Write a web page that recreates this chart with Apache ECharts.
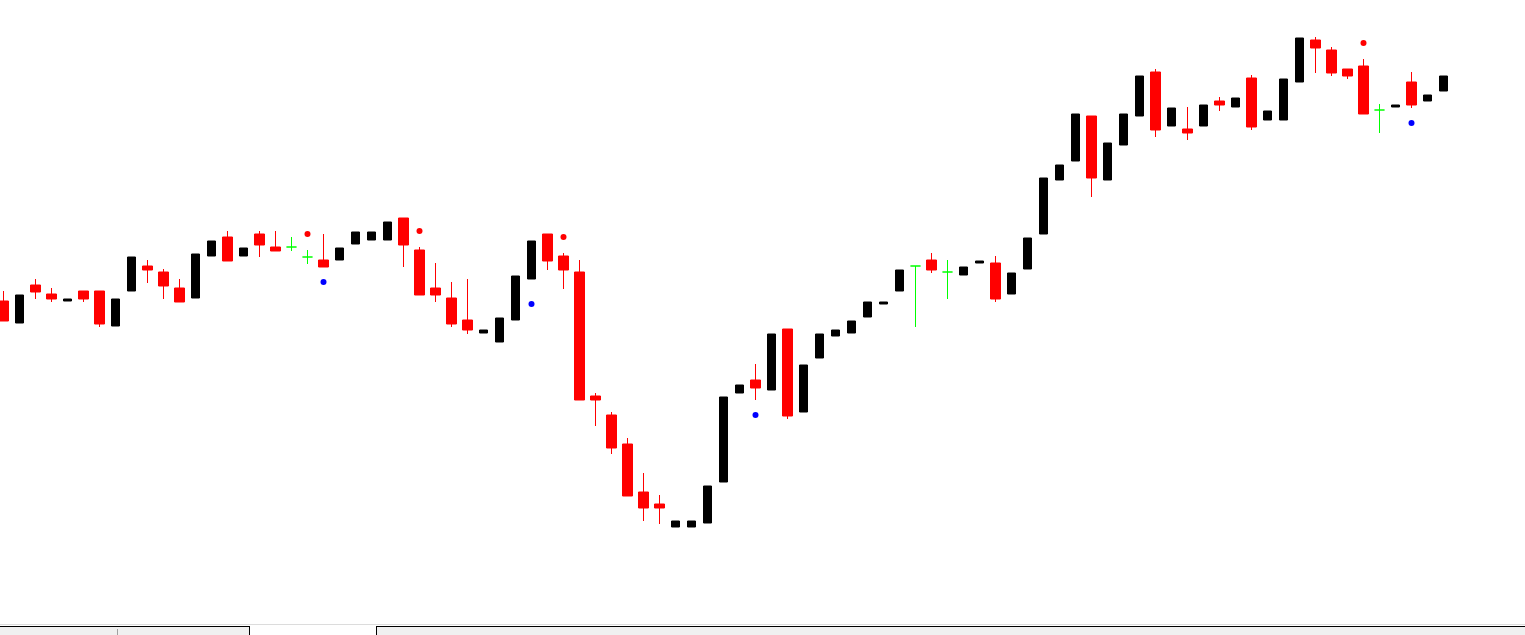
<!DOCTYPE html>
<html>
<head>
<meta charset="utf-8">
<script src="https://cdn.jsdelivr.net/npm/echarts/dist/echarts.min.js"></script>
<style>
html,body{margin:0;padding:0;background:#ffffff;overflow:hidden}
#chart{width:1525px;height:635px}
</style>
</head>
<body>
<div id="chart"></div>
<script>
// OHLC values (price units, higher = up)
const opens  = [323,301,339,330,323,333,333,298,333,358,352,336,326,368,387,368,390,377,377,367,364,364,380,384,384,406,374,336,326,304,291,282,304,345,390,368,352,228,209,180,132,120,97,97,101,142,231,244,234,295,212,266,288,291,307,320,333,358,364,352,349,361,361,330,355,390,444,463,508,444,479,508,552,498,495,498,523,517,546,504,504,542,584,574,555,558,514,517,542,523,533];
const closes = [303,329,332,325,325,325,300,325,367,354,338,322,370,383,363,376,379,373,377,367,357,376,392,392,402,379,329,329,300,294,294,306,348,383,363,354,224,224,176,128,116,116,103,103,138,227,239,236,290,208,259,290,294,303,322,322,354,358,354,352,357,363,325,351,386,446,459,510,446,481,510,548,494,516,491,519,519,526,497,513,545,586,576,551,548,510,514,519,519,529,548];
const lows   = [303,301,325,322,323,322,297,298,333,341,325,322,326,368,363,368,367,373,373,360,357,364,380,384,384,357,329,322,297,290,291,282,304,345,354,335,224,198,170,128,103,100,97,97,101,142,231,224,234,205,212,266,288,291,307,320,333,297,351,325,349,361,322,330,355,390,444,463,427,444,479,508,487,498,484,498,513,517,494,504,504,542,551,548,545,510,491,517,516,523,533];
const highs  = [333,329,345,336,325,333,333,325,367,364,355,345,370,383,393,376,393,393,387,374,390,376,392,392,402,406,377,361,342,345,294,306,348,383,390,371,364,231,212,186,151,129,103,103,138,227,239,260,290,295,259,290,294,303,322,322,354,358,371,364,357,363,368,351,386,446,459,510,508,481,510,548,555,516,517,519,527,526,549,513,545,586,587,577,555,565,520,519,552,529,548];

// fractal markers: bar index and price
const upFractalIdx   = [19, 26, 35, 85];
const upFractalVal   = [390, 393, 387, 581];
const downFractalIdx = [20, 33, 47, 88];
const downFractalVal = [342, 320, 209, 501];

const barCount = 96; // visible slots incl. empty right margin
const categories = [];
for (let i = 0; i < barCount; i++) categories.push('Bar ' + (i + 1));

function pick(kind) {
  return opens.map((o, i) => {
    const c = closes[i];
    const k = c > o ? 'up' : (c < o ? 'down' : 'doji');
    return k === kind ? [o, c, lows[i], highs[i]] : ['-', '-', '-', '-'];
  });
}

const chart = echarts.init(document.getElementById('chart'), null, {renderer: 'canvas'});
const W = 1525, H = 635;
chart.setOption({
  animation: false,
  backgroundColor: '#ffffff',
  grid: {left: -4.5, top: 0, width: 16 * barCount, height: 624, containLabel: false, outerBoundsMode: 'none'},
  xAxis: {type: 'category', data: categories, show: false, boundaryGap: true},
  yAxis: {type: 'value', min: 0, max: 624, show: false, splitLine: {show: false}},
  series: [
    {
      name: 'Bull', type: 'candlestick', data: pick('up'), barWidth: 8,
      itemStyle: {color: '#000000', color0: '#000000', borderColor: '#000000', borderColor0: '#000000', borderWidth: 1},
      emphasis: {disabled: true}
    },
    {
      name: 'Bear', type: 'candlestick', data: pick('down'), barWidth: 10,
      itemStyle: {color: '#ff0000', color0: '#ff0000', borderColor: '#ff0000', borderColor0: '#ff0000', borderWidth: 1},
      emphasis: {disabled: true}
    },
    {
      name: 'Doji', type: 'candlestick', data: pick('doji'), barWidth: 10,
      itemStyle: {color: '#00ff00', color0: '#00ff00', borderColor: '#00ff00', borderColor0: '#00ff00', borderColorDoji: '#00ff00', borderWidth: 1},
      emphasis: {disabled: true}
    },
    {
      name: 'Fractals Up', type: 'scatter', symbol: 'circle', symbolSize: 6,
      data: upFractalIdx.map((x, i) => [x, upFractalVal[i]]),
      itemStyle: {color: '#ff0000', opacity: 1}, emphasis: {disabled: true}
    },
    {
      name: 'Fractals Down', type: 'scatter', symbol: 'circle', symbolSize: 6,
      data: downFractalIdx.map((x, i) => [x, downFractalVal[i]]),
      itemStyle: {color: '#0000ff', opacity: 1}, emphasis: {disabled: true}
    }
  ],
  graphic: [
    {type: 'rect', shape: {x: 0, y: 624, width: W, height: 1}, style: {fill: '#dcdcdc'}, silent: true},
    {type: 'rect', shape: {x: 0, y: 626, width: 250, height: 9}, style: {fill: '#f0f0f0'}, silent: true},
    {type: 'rect', shape: {x: 0, y: 626, width: 250, height: 1}, style: {fill: '#000000'}, silent: true},
    {type: 'rect', shape: {x: 249, y: 626, width: 1, height: 9}, style: {fill: '#000000'}, silent: true},
    {type: 'rect', shape: {x: 117, y: 629, width: 1, height: 6}, style: {fill: '#a0a0a0'}, silent: true},
    {type: 'rect', shape: {x: 376, y: 626, width: W - 376, height: 9}, style: {fill: '#f0f0f0'}, silent: true},
    {type: 'rect', shape: {x: 376, y: 626, width: W - 376, height: 1}, style: {fill: '#000000'}, silent: true},
    {type: 'rect', shape: {x: 376, y: 626, width: 1, height: 9}, style: {fill: '#000000'}, silent: true}
  ]
});
</script>
</body>
</html>
